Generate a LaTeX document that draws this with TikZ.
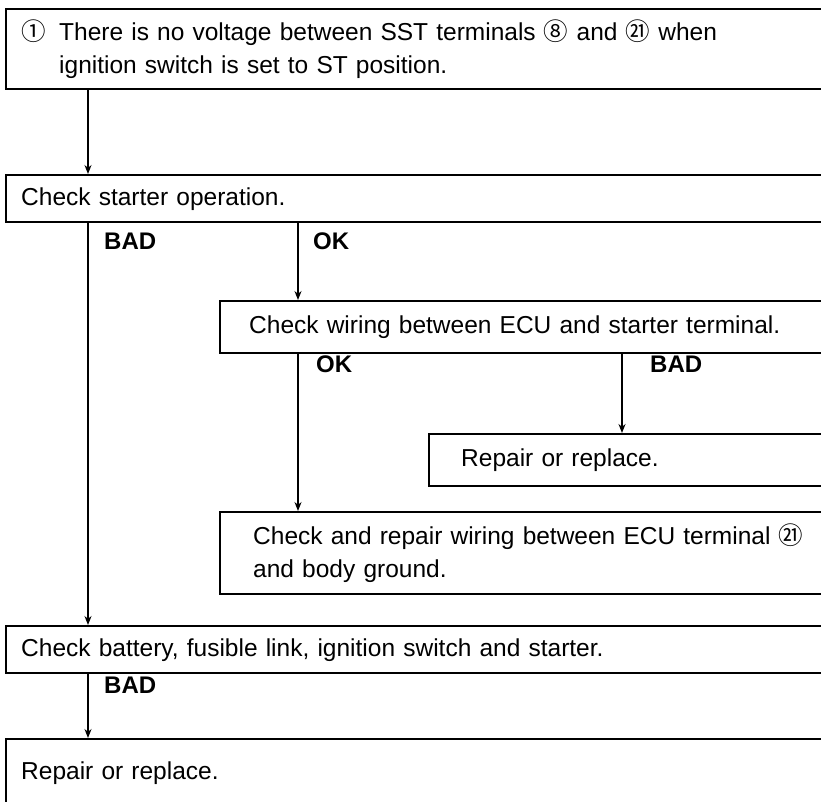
\documentclass[tikz,border=0pt]{standalone}
\usepackage{fontspec}
\setmainfont{Liberation Sans}
\newfontfamily\cjk{Noto Sans CJK SC}
\usetikzlibrary{arrows.meta}
\newcommand{\reffont}{\fontsize{24.5}{33}\selectfont\spaceskip=0.2em plus 0.05em minus 0.05em\relax}
\newcommand{\circnum}[1]{{\cjk #1}}
\begin{document}
\begin{tikzpicture}[x=1pt,y=-1pt,
  box/.style={draw, line width=2.4pt, anchor=north west, minimum width=860pt,
    text width=860pt-2*#1, inner xsep=#1, inner ysep=0pt, align=left,
    font=\reffont},
  box/.default=15pt,
  conn/.style={line width=1.4pt, -{Stealth[length=9pt,width=7pt]}},
  lab/.style={anchor=north west, inner sep=0pt, font=\fontsize{24}{26}\selectfont\bfseries}
]
\useasboundingbox (0,0) rectangle (821,802);
\clip (0,0) rectangle (821,802);
\fill[white] (0,0) rectangle (821,802);

\coordinate (xa) at (88,0);
\coordinate (xb) at (298,0);
\coordinate (xc) at (622,0);

\node[box, minimum height=80pt] (top) at (5,8)
  {\makebox[38pt][l]{\circnum{①}}There is no voltage between SST terminals \circnum{⑧} and \circnum{㉑} when\\
   \hspace*{38pt}ignition switch is set to ST position.};
\node[box, minimum height=47pt] (start) at (5,174) {Check starter operation.};
\node[box=29pt, minimum height=52pt] (wiring) at (219,300) {Check wiring between ECU and starter terminal.};
\node[box=32pt, minimum height=52pt] (rep1) at (428,433) {Repair or replace.};
\node[box=33pt, minimum height=82pt] (chk) at (219,511)
  {Check and repair wiring between ECU terminal \circnum{㉑}\\and body ground.};
\node[box, minimum height=47pt] (batt) at (5,625) {Check battery, fusible link, ignition switch and starter.};
\node[box, minimum height=67pt] (rep2) at (5,738) {Repair or replace.};

\draw[conn] (xa |- top.south) -- (xa |- start.north);
\draw[conn] (xa |- start.south) -- (xa |- batt.north);
\draw[conn] (xb |- start.south) -- (xb |- wiring.north);
\draw[conn] (xb |- wiring.south) -- (xb |- chk.north);
\draw[conn] (xc |- wiring.south) -- (xc |- rep1.north);
\draw[conn] (xa |- batt.south) -- (xa |- rep2.north);

\node[lab] (l1) at (104,233) {BAD};
\node[lab] (l2) at (313,233) {OK};
\node[lab] (l3) at (316,356) {OK};
\node[lab] (l4) at (650,356) {BAD};
\node[lab] (l5) at (104,677) {BAD};
\end{tikzpicture}
\end{document}
